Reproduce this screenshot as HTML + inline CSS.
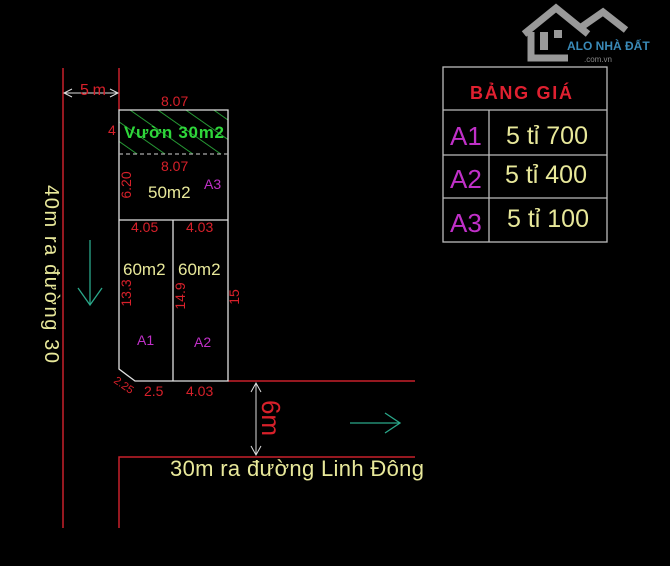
<!DOCTYPE html>
<html><head><meta charset="utf-8"><style>
body{margin:0;background:#000;width:670px;height:566px;overflow:hidden}
svg{display:block}
text{font-family:"Liberation Sans",sans-serif}
</style></head><body>
<svg width="670" height="566" viewBox="0 0 670 566">
<defs>
<pattern id="h" patternUnits="userSpaceOnUse" width="16" height="16" patternTransform="rotate(-55)">
<line x1="0" y1="0" x2="0" y2="16" stroke="#2aa83a" stroke-width="1.8"/>
</pattern>
</defs>
<g stroke="#c8202a" stroke-width="1.5" fill="none">
<line x1="63" y1="68" x2="63" y2="528"/>
<line x1="119" y1="68" x2="119" y2="110"/>
<line x1="228" y1="381" x2="415" y2="381"/>
<polyline points="119,528 119,457 415,457"/>
</g>
<g stroke="#ddd" stroke-width="1" fill="none">
<line x1="64" y1="93" x2="118" y2="93"/>
<polyline points="72,89 64,93 72,97"/><polyline points="110,89 118,93 110,97"/>
<line x1="256" y1="383" x2="256" y2="455"/>
<polyline points="251,392 256,383 261,392"/><polyline points="251,446 256,455 261,446"/>
</g>
<text x="80" y="95" fill="#d8202a" font-size="16" textLength="26">5m</text>
<rect x="119" y="110" width="109" height="44" fill="url(#h)"/>
<g stroke="#e0e0e0" stroke-width="1.3" fill="none">
<polyline points="119,154 119,110 228,110 228,381 135,381 119,369 119,154"/>
<line x1="119" y1="220" x2="228" y2="220"/>
<line x1="173" y1="220" x2="173" y2="381"/>
<line x1="119" y1="154" x2="228" y2="154" stroke-dasharray="4,3" stroke="#aaa"/>
</g>
<g fill="#d8202a" font-size="14">
<text x="161" y="106">8.07</text>
<text x="108" y="135">4</text>
<text x="161" y="171">8.07</text>
<text x="131" y="232">4.05</text>
<text x="186" y="232">4.03</text>
<text x="144" y="396">2.5</text>
<text x="186" y="396">4.03</text>
<text transform="translate(131,185) rotate(-90)" text-anchor="middle">6.20</text>
<text transform="translate(131,293) rotate(-90)" text-anchor="middle">13.3</text>
<text transform="translate(185,296) rotate(-90)" text-anchor="middle">14.9</text>
<text transform="translate(239,297) rotate(-90)" text-anchor="middle">15</text>
<text transform="translate(113,382) rotate(35)" font-size="11">2.25</text>
<text transform="translate(262,418) rotate(90)" font-size="26" text-anchor="middle">6m</text>
</g>
<text x="124" y="138" fill="#2ed63a" font-size="17" font-weight="bold" textLength="100">Vườn 30m2</text>
<g fill="#e8e89a" font-size="17">
<text x="148" y="198">50m2</text>
<text x="123" y="275">60m2</text>
<text x="178" y="275">60m2</text>
</g>
<g fill="#c030c8" font-size="14">
<text x="204" y="189">A3</text>
<text x="137" y="345">A1</text>
<text x="194" y="347">A2</text>
</g>
<g stroke="#2aa88a" stroke-width="1.3" fill="none">
<line x1="90" y1="240" x2="90" y2="305"/><polyline points="78,288 90,305 102,288"/>
<line x1="350" y1="423" x2="400" y2="423"/><polyline points="385,413 400,423 385,433"/>
</g>
<text transform="translate(45,185) rotate(90)" fill="#e8e89a" font-size="20" textLength="178">40m ra đường 30</text>
<text x="170" y="476" fill="#e8e89a" font-size="22" textLength="254">30m ra đường Linh Đông</text>
<g stroke="#bbb" stroke-width="1.3" fill="none">
<rect x="443" y="67" width="164" height="175"/>
<line x1="443" y1="110" x2="607" y2="110"/>
<line x1="443" y1="155" x2="607" y2="155"/>
<line x1="443" y1="198" x2="607" y2="198"/>
<line x1="489" y1="110" x2="489" y2="242"/>
</g>
<text x="521" y="99" fill="#e02030" font-size="18" font-weight="bold" text-anchor="middle" textLength="102">BẢNG GIÁ</text>
<g fill="#c030c8" font-size="26">
<text x="450" y="145">A1</text><text x="450" y="188">A2</text><text x="450" y="232">A3</text>
</g>
<g fill="#e8e89a" font-size="25" text-anchor="middle">
<text x="547" y="144">5 tỉ 700</text><text x="546" y="183">5 tỉ 400</text><text x="548" y="227">5 tỉ 100</text>
</g>
<g fill="none" stroke="#999" stroke-width="7">
<polyline points="524,34 556,8 588,34"/>
<polyline points="580,28 603,12 626,30"/>
<polyline points="531,32 531,58 568,58"/>
</g>
<rect x="540" y="32" width="8" height="18" fill="#999"/>
<rect x="554" y="30" width="8" height="8" fill="#999"/>
<text x="567" y="50" fill="#3a8ab8" font-size="12" font-weight="bold">ALO NHÀ ĐẤT</text>
<text x="612" y="62" fill="#888" font-size="8" text-anchor="end">.com.vn</text>
</svg>
</body></html>
